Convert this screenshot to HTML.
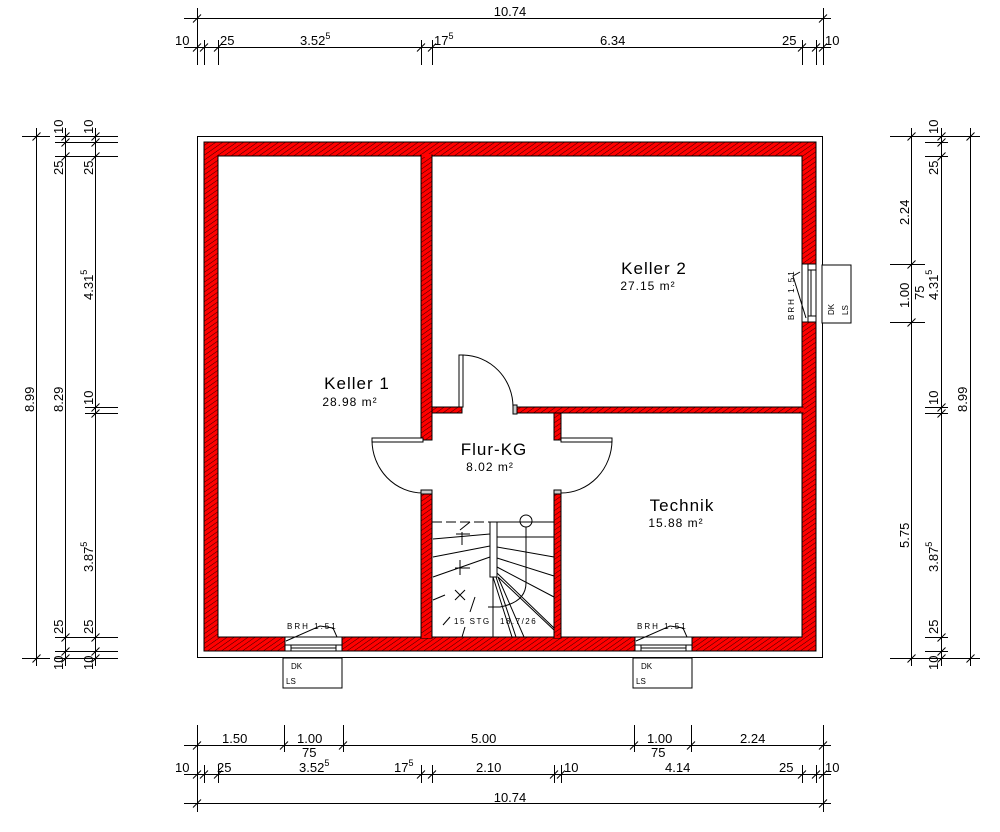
<!DOCTYPE html>
<html><head><meta charset="utf-8"><style>
html,body{margin:0;padding:0;background:#fff;}
svg{display:block;}
text{font-family:"Liberation Sans",sans-serif;fill:#000;}
.d{font-size:13px;}
.s{font-size:9px;}
</style></head><body>
<svg width="1000" height="832" viewBox="0 0 1000 832" xmlns="http://www.w3.org/2000/svg">
<defs>
<pattern id="h" patternUnits="userSpaceOnUse" width="4" height="4" patternTransform="rotate(55)">
<rect width="4" height="4" fill="#ff0000"/>
<line x1="0" y1="0" x2="0" y2="4" stroke="#000" stroke-width="0.8"/>
</pattern>
</defs>
<rect x="197.5" y="136.5" width="625" height="521" fill="none" stroke="#000"/>
<path d="M204,142H816V651H204Z M218,156V637H802V156Z" fill="url(#h)" fill-rule="evenodd" stroke="#000" stroke-width="1"/>
<g fill="url(#h)" stroke="#000" stroke-width="1">
<rect x="421" y="155" width="11" height="285"/>
<rect x="421" y="493" width="11" height="145"/>
<rect x="432" y="407" width="30" height="6"/>
<rect x="513" y="407" width="290" height="6"/>
<rect x="554" y="413" width="7" height="27"/>
<rect x="554" y="493" width="7" height="145"/>
</g>
<g fill="#ff0000" stroke="none">
<rect x="421.5" y="154" width="10" height="3"/>
<rect x="421.5" y="636" width="10" height="2"/>
<rect x="554.5" y="636" width="6" height="2"/>
<rect x="801" y="407.5" width="3" height="5"/>
</g>
<g stroke="#000" stroke-width="1" fill="#fff">
<rect x="285" y="637" width="57" height="14"/>
<rect x="635" y="637" width="57" height="14"/>
<rect x="802" y="264" width="14" height="58"/>
<rect x="283" y="658" width="59" height="30"/>
<rect x="633" y="658" width="59" height="30"/>
<rect x="822" y="265" width="29" height="58"/>
</g>
<g stroke="#000" stroke-width="1" fill="none">
<path d="M285,645H342M291,645V651M336,645V651M291,648H336"/>
<path d="M635,645H692M641,645V651M686,645V651M641,648H686"/>
<path d="M808,264V322M808,270H816M808,316H816M811,270V316"/>
<path d="M286,641L320,626L333,628L337,637"/>
<path d="M636,641L670,626L683,628L687,637"/>
<path d="M806,318L793,276L800,272"/>
</g>
<g font-size="8">
<text x="287" y="629" letter-spacing="2">BRH 1.51</text>
<text x="637" y="629" letter-spacing="2">BRH 1.51</text>
<text x="291" y="669">DK</text><text x="286" y="684">LS</text>
<text x="641" y="669">DK</text><text x="636" y="684">LS</text>
<text transform="translate(794,320) rotate(-90)" letter-spacing="2">BRH 1.51</text>
<text transform="translate(834,315) rotate(-90)">DK</text>
<text transform="translate(848,315) rotate(-90)">LS</text>
</g>
<g stroke="#000" stroke-width="1" fill="none">
<rect x="459" y="355" width="4" height="52" fill="#fff"/>
<path d="M463,355A51,52 0 0 1 513,407"/>
<rect x="372" y="438" width="51" height="4" fill="#fff"/>
<path d="M372,440A51,53 0 0 0 423,493"/>
<rect x="561" y="438" width="51" height="4" fill="#fff"/>
<path d="M612,440A51,53 0 0 1 561,493"/>
<rect x="421" y="490" width="11" height="4" fill="#ccc"/>
<rect x="554" y="490" width="7" height="4" fill="#ccc"/>
<rect x="513" y="405" width="4" height="9" fill="#ccc"/>
</g>
<g stroke="#000" stroke-width="1" fill="none">
<path d="M432,522H490" stroke-dasharray="10,4"/>
<path d="M497,522H554"/>
<rect x="490" y="522" width="7" height="55" fill="#fff"/>
<circle cx="526" cy="521" r="6"/>
<path d="M526,527V583Q526,602 500,607H488"/>
<path d="M497,537H554M497,547L554,557M497,558L554,576M497,567L554,597M497,573L554,628"/>
<path d="M433,539L490,534M433,557L490,546M433,577L490,557M433,600L445,595"/>
<path d="M460,530L470,522M462,532V545M456,534H470M460,560V575M455,568H470M455,590L465,600M465,590L455,600M475,597L470,612M443,625L450,617M462,637L465,627"/>
<path d="M493,577V637M493,577L512,637M496,577L516,637M498,577L524,637M498,577L554,630"/>
</g>
<text x="454" y="624" font-size="8" letter-spacing="1.5">15 STG</text>
<text x="500" y="624" font-size="8" letter-spacing="1.5">18.7/26</text>
<g>
<text x="357" y="389" font-size="17" text-anchor="middle" letter-spacing="1">Keller 1</text>
<text x="350" y="406" font-size="12" text-anchor="middle" letter-spacing="1">28.98 m²</text>
<text x="654" y="274" font-size="17" text-anchor="middle" letter-spacing="1">Keller 2</text>
<text x="648" y="290" font-size="12" text-anchor="middle" letter-spacing="1">27.15 m²</text>
<text x="494" y="455" font-size="17" text-anchor="middle" letter-spacing="1">Flur-KG</text>
<text x="490" y="471" font-size="12" text-anchor="middle" letter-spacing="1">8.02 m²</text>
<text x="682" y="511" font-size="17" text-anchor="middle" letter-spacing="1">Technik</text>
<text x="676" y="527" font-size="12" text-anchor="middle" letter-spacing="1">15.88 m²</text>
</g>
<!-- dimension lines -->
<g stroke="#000" stroke-width="1" fill="none">
<path d="M184,18.5H831 M197.5,8V65 M823.5,8V65 M193,22.5l8,-8 M819,22.5l8,-8"/>
<path d="M184,47.5H831 M204.5,40V65 M218.5,40V65 M421.5,40V65 M432.5,40V65 M802.5,40V65 M816.5,40V65
M193,51.5l8,-8 M200,51.5l8,-8 M214,51.5l8,-8 M417,51.5l8,-8 M428,51.5l8,-8 M798,51.5l8,-8 M812,51.5l8,-8 M819,51.5l8,-8"/>
<path d="M184,745.5H831 M197.5,725V812 M823.5,725V812 M284.5,725V752 M343.5,725V752 M634.5,725V752 M691.5,725V752
M193,749.5l8,-8 M280,749.5l8,-8 M339,749.5l8,-8 M630,749.5l8,-8 M687,749.5l8,-8 M819,749.5l8,-8"/>
<path d="M184,774.5H831 M204.5,765V783 M218.5,765V783 M421.5,765V783 M432.5,765V783 M554.5,765V783 M561.5,765V783 M802.5,765V783 M816.5,765V783
M193,778.5l8,-8 M200,778.5l8,-8 M214,778.5l8,-8 M417,778.5l8,-8 M428,778.5l8,-8 M550,778.5l8,-8 M557,778.5l8,-8 M798,778.5l8,-8 M812,778.5l8,-8 M819,778.5l8,-8"/>
<path d="M184,803.5H831 M193,807.5l8,-8 M819,807.5l8,-8"/>
<path d="M36.5,128V666 M22,136.5H50 M22,658.5H50 M32.5,140.5l8,-8 M32.5,662.5l8,-8"/>
<path d="M65.5,128V666 M55,136.5H118 M55,142.5H118 M55,156.5H118 M55,637.5H118 M55,651.5H118 M55,658.5H118
M61.5,140.5l8,-8 M61.5,146.5l8,-8 M61.5,160.5l8,-8 M61.5,641.5l8,-8 M61.5,655.5l8,-8 M61.5,662.5l8,-8"/>
<path d="M95.5,128V666 M85,407.5H118 M85,413.5H118
M91.5,140.5l8,-8 M91.5,146.5l8,-8 M91.5,160.5l8,-8 M91.5,411.5l8,-8 M91.5,417.5l8,-8 M91.5,641.5l8,-8 M91.5,655.5l8,-8 M91.5,662.5l8,-8"/>
<path d="M911.5,128V666 M890,136.5H980 M890,658.5H980 M890,264.5H925 M890,322.5H925
M907.5,140.5l8,-8 M907.5,268.5l8,-8 M907.5,326.5l8,-8 M907.5,662.5l8,-8"/>
<path d="M941.5,128V666 M925,142.5H948 M925,156.5H948 M925,407.5H948 M925,413.5H948 M925,637.5H948 M925,651.5H948
M937.5,140.5l8,-8 M937.5,146.5l8,-8 M937.5,160.5l8,-8 M937.5,411.5l8,-8 M937.5,417.5l8,-8 M937.5,641.5l8,-8 M937.5,655.5l8,-8 M937.5,662.5l8,-8"/>
<path d="M970.5,128V666 M966.5,140.5l8,-8 M966.5,662.5l8,-8"/>
</g>
<g class="d">
<text x="510" y="16" text-anchor="middle">10.74</text>
<text x="175" y="45">10</text>
<text x="220" y="45">25</text>
<text x="300" y="45">3.52<tspan class="s" dy="-6">5</tspan></text>
<text x="434" y="45">17<tspan class="s" dy="-6">5</tspan></text>
<text x="600" y="45">6.34</text>
<text x="782" y="45">25</text>
<text x="825" y="45">10</text>
<text x="222" y="743">1.50</text>
<text x="297" y="743">1.00</text>
<text x="471" y="743">5.00</text>
<text x="647" y="743">1.00</text>
<text x="740" y="743">2.24</text>
<text x="302" y="757">75</text>
<text x="651" y="757">75</text>
<text x="175" y="772">10</text>
<text x="217" y="772">25</text>
<text x="299" y="772">3.52<tspan class="s" dy="-6">5</tspan></text>
<text x="394" y="772">17<tspan class="s" dy="-6">5</tspan></text>
<text x="476" y="772">2.10</text>
<text x="564" y="772">10</text>
<text x="665" y="772">4.14</text>
<text x="779" y="772">25</text>
<text x="825" y="772">10</text>
<text x="510" y="802" text-anchor="middle">10.74</text>
</g>
<g class="d">
<text transform="translate(63,134) rotate(-90)">10</text>
<text transform="translate(93,134) rotate(-90)">10</text>
<text transform="translate(63,175) rotate(-90)">25</text>
<text transform="translate(93,175) rotate(-90)">25</text>
<text transform="translate(34,412) rotate(-90)">8.99</text>
<text transform="translate(63,412) rotate(-90)">8.29</text>
<text transform="translate(93,300) rotate(-90)">4.31<tspan class="s" dy="-6">5</tspan></text>
<text transform="translate(93,405) rotate(-90)">10</text>
<text transform="translate(93,572) rotate(-90)">3.87<tspan class="s" dy="-6">5</tspan></text>
<text transform="translate(63,634) rotate(-90)">25</text>
<text transform="translate(93,634) rotate(-90)">25</text>
<text transform="translate(63,670) rotate(-90)">10</text>
<text transform="translate(93,670) rotate(-90)">10</text>
<text transform="translate(938,134) rotate(-90)">10</text>
<text transform="translate(938,175) rotate(-90)">25</text>
<text transform="translate(909,225) rotate(-90)">2.24</text>
<text transform="translate(909,308) rotate(-90)">1.00</text>
<text transform="translate(924,300) rotate(-90)">75</text>
<text transform="translate(938,300) rotate(-90)">4.31<tspan class="s" dy="-6">5</tspan></text>
<text transform="translate(938,405) rotate(-90)">10</text>
<text transform="translate(967,412) rotate(-90)">8.99</text>
<text transform="translate(909,548) rotate(-90)">5.75</text>
<text transform="translate(938,572) rotate(-90)">3.87<tspan class="s" dy="-6">5</tspan></text>
<text transform="translate(938,634) rotate(-90)">25</text>
<text transform="translate(938,670) rotate(-90)">10</text>
</g>
</svg>
</body></html>
